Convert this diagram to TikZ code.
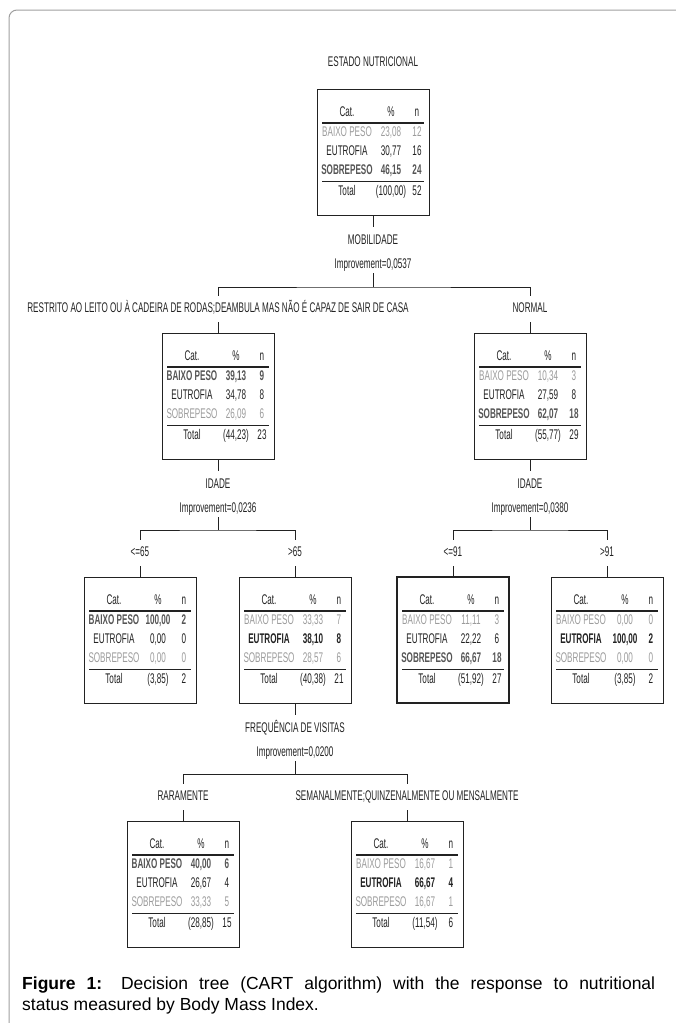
\documentclass[tikz,border=0pt]{standalone}
\usepackage{fontspec}
\usepackage{array}
\newfontfamily\narrow[FakeStretch=0.58]{Liberation Sans}
\newfontfamily\capfont{Liberation Sans}
\definecolor{ltgray}{HTML}{9C9C9C}
\definecolor{dkgray}{HTML}{555555}
\definecolor{ink}{HTML}{222222}
\setlength{\arrayrulewidth}{1.2pt}
\setlength{\tabcolsep}{0pt}
% one row of a node table: light, black, bold, bold grey
\newcommand{\rowlt}[3]{\color{ltgray}#1&\color{ltgray}#2&\color{ltgray}#3}
\newcommand{\rowbk}[3]{#1&#2&#3}
\newcommand{\rowbf}[3]{\bfseries #1&\bfseries #2&\bfseries #3}
\newcommand{\rowgb}[3]{\color{dkgray}\bfseries #1&\color{dkgray}\bfseries #2&\color{dkgray}\bfseries #3}
\newcommand{\carttab}[5]{%
  \begin{tabular}{w{c}{50pt}w{c}{38pt}w{c}{14pt}}
    Cat. & \% & n\\ \hline
    #1\\ #2\\ #3\\ \hline
    Total & #4 & #5
  \end{tabular}}

\begin{document}
\begin{tikzpicture}[x=1pt,y=-1pt,
  every node/.style={font=\narrow\fontsize{14}{19}\selectfont,text=ink},
  lbl/.style={inner sep=0pt,text height=10pt,text depth=0pt},
  cart/.style={draw=ink,line width=.9pt,minimum width=112pt,minimum height=126pt,inner sep=0pt,fill=white},
  link/.style={draw=ink,line width=.8pt},
  tip/.style={link,shorten >=7pt},
  drop/.style={link,shorten <=5pt},
  fork/.style={link,shorten <=6pt,shorten >=6pt},
  feed/.style={link,shorten <=10pt}]
  \useasboundingbox (0,0) rectangle (676,1023);

  % Page frame.
  \draw[gray!75,line width=1pt,rounded corners=8pt] (9,1023) |- (676,10);

  % Root.
  \node[lbl] (title) at (373,61) {ESTADO NUTRICIONAL};
  \node[cart] (root) at (373,152) {\carttab{\rowlt{BAIXO PESO}{23,08}{12}}{\rowbk{EUTROFIA}{30,77}{16}}{\rowgb{SOBREPESO}{46,15}{24}}{(100,00)}{52}};

  % First split.
  \node[lbl] (mob) at (373,239) {MOBILIDADE};
  \node[lbl] (imp1) at (373,263) {Improvement=0,0537};
  \coordinate (j1) at (373,287);
  \node[lbl] (restr) at (218,307) {RESTRITO AO LEITO OU À CADEIRA DE RODAS;DEAMBULA MAS NÃO É CAPAZ DE SAIR DE CASA};
  \node[lbl] (normal) at (530,307) {NORMAL};
  \node[cart] (left) at (218,396) {\carttab{\rowgb{BAIXO PESO}{39,13}{9}}{\rowbk{EUTROFIA}{34,78}{8}}{\rowlt{SOBREPESO}{26,09}{6}}{(44,23)}{23}};
  \node[cart] (right) at (530,396) {\carttab{\rowlt{BAIXO PESO}{10,34}{3}}{\rowbk{EUTROFIA}{27,59}{8}}{\rowgb{SOBREPESO}{62,07}{18}}{(55,77)}{29}};
  \draw[tip] (root.south) -- (mob.north);
  \draw[drop] (imp1.south) -- (j1);
  \draw[fork] (restr.north) |- (j1) -| (normal.north);
  \draw[feed] (restr.south) -- (left.north);
  \draw[feed] (normal.south) -- (right.north);

  % Split of the left node.
  \node[lbl] (age1) at (218,483) {IDADE};
  \node[lbl] (imp2) at (218,507) {Improvement=0,0236};
  \coordinate (j2) at (218,530);
  \node[lbl] (le65) at (140,551) {<=65};
  \node[lbl] (gt65) at (295,551) {>65};
  \node[cart] (young) at (140,640) {\carttab{\rowgb{BAIXO PESO}{100,00}{2}}{\rowbk{EUTROFIA}{0,00}{0}}{\rowlt{SOBREPESO}{0,00}{0}}{(3,85)}{2}};
  \node[cart] (old) at (295,640) {\carttab{\rowlt{BAIXO PESO}{33,33}{7}}{\rowbf{EUTROFIA}{38,10}{8}}{\rowlt{SOBREPESO}{28,57}{6}}{(40,38)}{21}};
  \draw[tip] (left.south) -- (age1.north);
  \draw[drop] (imp2.south) -- (j2);
  \draw[fork] (le65.north) |- (j2) -| (gt65.north);
  \draw[feed] (le65.south) -- (young.north);
  \draw[feed] (gt65.south) -- (old.north);

  % Split of the right node.
  \node[lbl] (age2) at (530,483) {IDADE};
  \node[lbl] (imp3) at (530,507) {Improvement=0,0380};
  \coordinate (j3) at (530,530);
  \node[lbl] (le91) at (453,551) {<=91};
  \node[lbl] (gt91) at (607,551) {>91};
  \node[cart,line width=2pt] (upto91) at (453,640) {\carttab{\rowlt{BAIXO PESO}{11,11}{3}}{\rowbk{EUTROFIA}{22,22}{6}}{\rowgb{SOBREPESO}{66,67}{18}}{(51,92)}{27}};
  \node[cart] (over91) at (607,640) {\carttab{\rowlt{BAIXO PESO}{0,00}{0}}{\rowbf{EUTROFIA}{100,00}{2}}{\rowlt{SOBREPESO}{0,00}{0}}{(3,85)}{2}};
  \draw[tip] (right.south) -- (age2.north);
  \draw[drop] (imp3.south) -- (j3);
  \draw[fork] (le91.north) |- (j3) -| (gt91.north);
  \draw[feed] (le91.south) -- (upto91.north);
  \draw[feed] (gt91.south) -- (over91.north);

  % Split of the >65 node.
  \node[lbl] (freq) at (295,727) {FREQUÊNCIA DE VISITAS};
  \node[lbl] (imp4) at (295,751) {Improvement=0,0200};
  \coordinate (j4) at (295,774);
  \node[lbl] (rare) at (183,795) {RARAMENTE};
  \node[lbl] (often) at (407,795) {SEMANALMENTE;QUINZENALMENTE OU MENSALMENTE};
  \node[cart] (rarely) at (183,884) {\carttab{\rowgb{BAIXO PESO}{40,00}{6}}{\rowbk{EUTROFIA}{26,67}{4}}{\rowlt{SOBREPESO}{33,33}{5}}{(28,85)}{15}};
  \node[cart] (weekly) at (407,884) {\carttab{\rowlt{BAIXO PESO}{16,67}{1}}{\rowbf{EUTROFIA}{66,67}{4}}{\rowlt{SOBREPESO}{16,67}{1}}{(11,54)}{6}};
  \draw[tip] (old.south) -- (freq.north);
  \draw[drop] (imp4.south) -- (j4);
  \draw[fork] (rare.north) |- (j4) -| (often.north);
  \draw[feed] (rare.south) -- (rarely.north);
  \draw[feed] (often.south) -- (weekly.north);

  % Caption.
  \node[anchor=north west,inner sep=0pt,text width=633pt,align=justify,text=black,
    font=\capfont\fontsize{17.5}{20.5}\selectfont] (cap) at (22,977)
    {\tolerance=9999 \textbf{Figure 1:} Decision tree (CART algorithm) with the response to nutritional\linebreak status measured by Body Mass Index.};
\end{tikzpicture}
\end{document}
